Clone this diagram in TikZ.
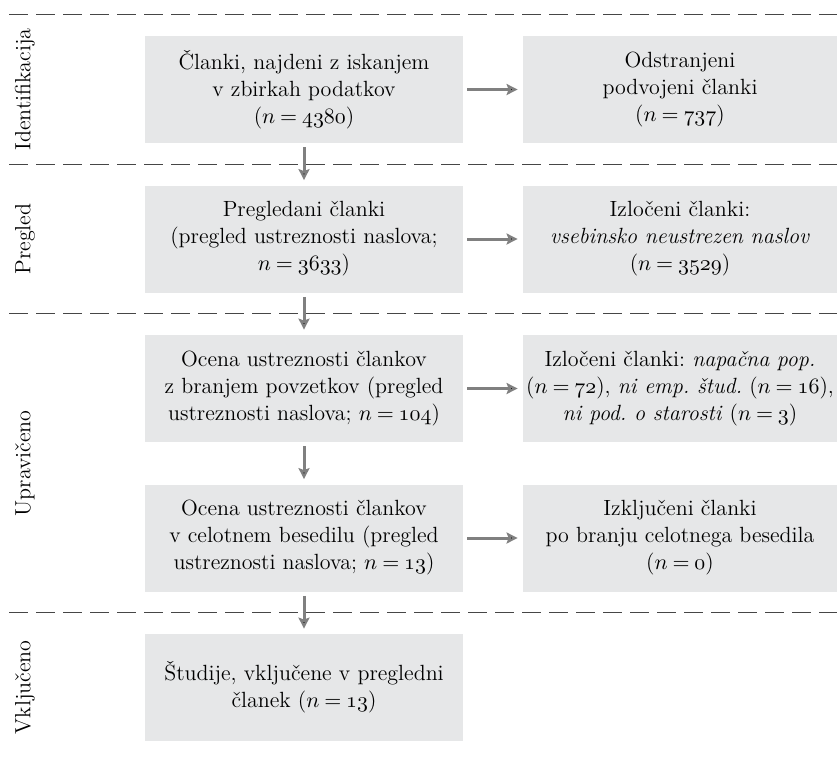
\documentclass[tikz,border=0pt]{standalone}
\usetikzlibrary{arrows.meta,positioning,calc}
\definecolor{boxgray}{RGB}{230,231,232}
\definecolor{arrowgray}{RGB}{128,128,128}
\definecolor{dashgray}{RGB}{70,70,70}
\newcommand{\nval}[1]{$\thickmuskip=4mu n = \mathnormal{#1}$}
\frenchspacing
\begin{document}
\begin{tikzpicture}[x=1pt,y=1pt,node distance=74.75pt,on grid,
>={Stealth[length=5.5pt,width=5.5pt,inset=1pt]},
font=\fontsize{11}{13.5}\selectfont,
box/.style={fill=boxgray,align=center,minimum width=159pt,
    minimum height=53.5pt,inner sep=0pt},
side/.style={box,minimum width=157pt},
stage/.style={rotate=90},
phase/.style={draw=dashgray,line width=0.7pt,dash pattern=on 9.5pt off 4pt},
flow/.style={->,draw=arrowgray,line width=1.5pt,shorten <=2pt,shorten >=2.5pt}]
\useasboundingbox (0,0) rectangle (418.5,-381);
\node[box] (B1) at (152,-44.75) {Članki, najdeni z iskanjem\\v zbirkah podatkov\\(\nval{4380})};
\node[box] (B2) [below=of B1] {Pregledani članki\\(pregled ustreznosti naslova;\\\nval{3633})};
\node[box] (B3) [below=of B2] {Ocena ustreznosti člankov\\z branjem povzetkov (pregled\\ustreznosti naslova; \nval{104})};
\node[box] (B4) [below=of B3] {Ocena ustreznosti člankov\\v celotnem besedilu (pregled\\ustreznosti naslova; \nval{13})};
\node[box] (B5) [below=of B4] {Študije, vključene v pregledni\\članek (\nval{13})};
\node[side] (R1) [right=188pt of B1] {Odstranjeni\\podvojeni članki\\(\nval{737})};
\node[side] (R2) [right=188pt of B2] {Izločeni članki:\\\textit{vsebinsko neustrezen naslov}\\(\nval{3529})};
\node[side] (R3) [right=188pt of B3] {Izločeni članki: \textit{napačna pop.}\\(\nval{72}), \textit{ni emp. štud.} (\nval{16}),\\\textit{ni pod. o starosti} (\nval{3})};
\node[side] (R4) [right=188pt of B4] {Izključeni članki\\po branju celotnega besedila\\(\nval{0})};
\coordinate (L) at (4.5,0);
\coordinate (R) at (418.5,0);
\coordinate (lx) at (12.5,0);
\coordinate (m0) at ($(B1.north)+(0,10.5)$);
\coordinate (m1) at ($(B1.south)!.5!(B2.north)$);
\coordinate (m2) at ($(B2.south)!.5!(B3.north)$);
\coordinate (m3) at ($(B4.south)!.5!(B5.north)$);
\coordinate (m4) at ($(B3)!.5!(B4)$);
% phase separators
\foreach \m in {m0,m1,m2,m3}
  \draw[phase] (L |- \m) -- (R |- \m);
\node[stage] (S1) at (lx |- B1) {Identifikacija};
\node[stage] (S2) at (lx |- B2) {Pregled};
\node[stage] (S3) at (lx |- m4) {Upravičeno};
\node[stage] (S4) at (lx |- B5) {Vključeno};
\path[flow] (B1) edge (R1)
                 edge (B2)
            (B2) edge (R2)
                 edge (B3)
            (B3) edge (R3)
                 edge (B4)
            (B4) edge (R4)
                 edge (B5);
\end{tikzpicture}
\end{document}
